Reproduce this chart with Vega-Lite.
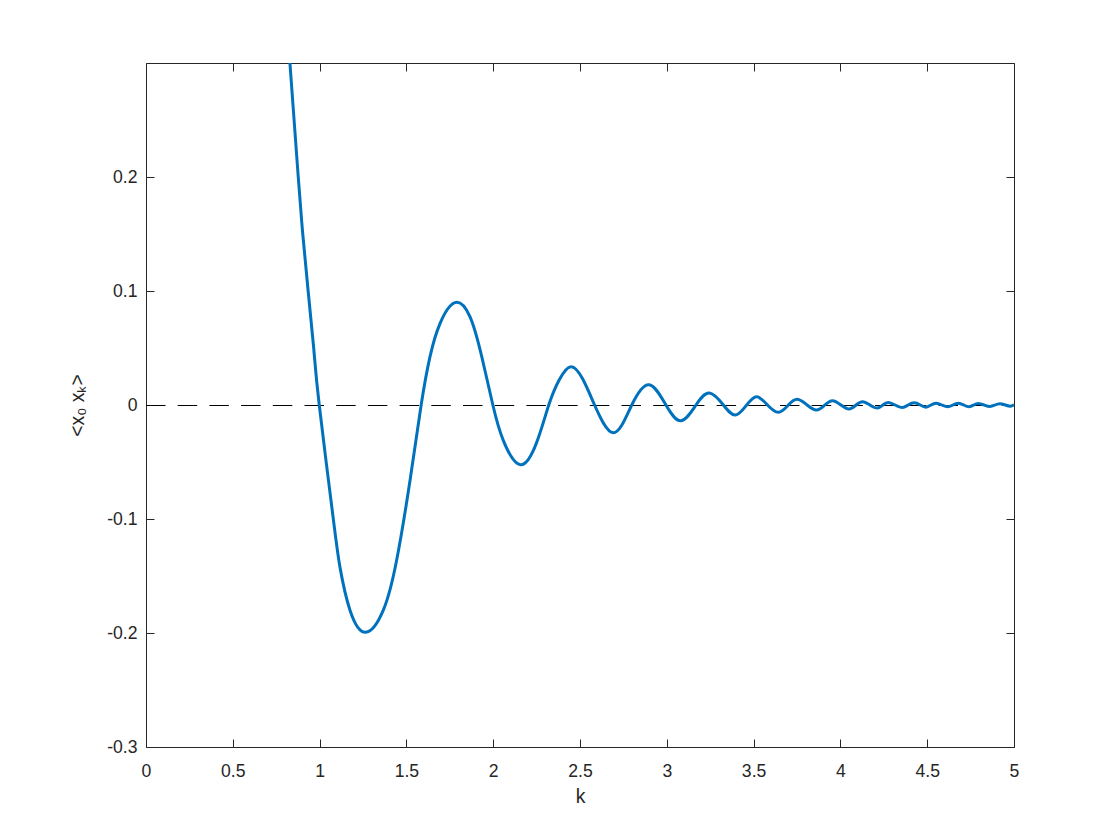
{
  "$schema": "https://vega.github.io/schema/vega-lite/v6.json",
  "width": 868,
  "height": 684,
  "autosize": {"type": "none"},
  "padding": {"left": 146, "top": 63, "right": 106, "bottom": 93},
  "background": "white",
  "datasets": {
    "curve": [
      {"k": 0.829, "v": 0.3}, {"k": 0.877, "v": 0.2}, {"k": 0.903, "v": 0.15}, {"k": 0.934, "v": 0.1},
      {"k": 0.966, "v": 0.05}, {"k": 0.998, "v": 0}, {"k": 1.079, "v": -0.1}, {"k": 1.117, "v": -0.142},
      {"k": 1.175, "v": -0.18}, {"k": 1.265, "v": -0.1994}, {"k": 1.367, "v": -0.18}, {"k": 1.444, "v": -0.136},
      {"k": 1.521, "v": -0.066}, {"k": 1.585, "v": 0}, {"k": 1.636, "v": 0.0424}, {"k": 1.694, "v": 0.0716},
      {"k": 1.78, "v": 0.0898}, {"k": 1.866, "v": 0.0775}, {"k": 1.934, "v": 0.0424}, {"k": 1.998, "v": 0},
      {"k": 2.058, "v": -0.031}, {"k": 2.156, "v": -0.0524}, {"k": 2.25, "v": -0.033}, {"k": 2.32, "v": 0},
      {"k": 2.38, "v": 0.022}, {"k": 2.448, "v": 0.0336}, {"k": 2.515, "v": 0.023}, {"k": 2.584, "v": 0},
      {"k": 2.692, "v": -0.0243}, {"k": 2.798, "v": 0}, {"k": 2.899, "v": 0.0178}, {"k": 2.995, "v": 0},
      {"k": 3.082, "v": -0.0138}, {"k": 3.168, "v": 0}, {"k": 3.245, "v": 0.0105}, {"k": 3.326, "v": 0},
      {"k": 3.395, "v": -0.0088}, {"k": 3.46, "v": 0}, {"k": 3.518, "v": 0.0073}, {"k": 3.58, "v": 0},
      {"k": 3.643, "v": -0.0064}, {"k": 3.7, "v": 0}, {"k": 3.752, "v": 0.005}, {"k": 3.808, "v": 0},
      {"k": 3.863, "v": -0.0044}, {"k": 3.91, "v": 0}, {"k": 3.955, "v": 0.0038}, {"k": 4.003, "v": 0},
      {"k": 4.05, "v": -0.0035}, {"k": 4.09, "v": 0}, {"k": 4.128, "v": 0.0029}, {"k": 4.17, "v": 0},
      {"k": 4.213, "v": -0.0027}, {"k": 4.245, "v": 0}, {"k": 4.276, "v": 0.0022}, {"k": 4.315, "v": 0},
      {"k": 4.357, "v": -0.0022}, {"k": 4.39, "v": 0}, {"k": 4.426, "v": 0.0019}, {"k": 4.46, "v": 0},
      {"k": 4.493, "v": -0.0019}, {"k": 4.522, "v": 0}, {"k": 4.551, "v": 0.0016}, {"k": 4.585, "v": 0},
      {"k": 4.618, "v": -0.0016}, {"k": 4.648, "v": 0}, {"k": 4.679, "v": 0.0015}, {"k": 4.71, "v": 0},
      {"k": 4.741, "v": -0.0015}, {"k": 4.768, "v": 0}, {"k": 4.794, "v": 0.0013}, {"k": 4.828, "v": 0},
      {"k": 4.862, "v": -0.0013}, {"k": 4.89, "v": 0}, {"k": 4.919, "v": 0.0012}, {"k": 4.95, "v": 0},
      {"k": 4.98, "v": -0.001}, {"k": 5.0, "v": 0.0002}
    ],
    "zeroline": [{"a": 0, "b": 5}]
  },
  "layer": [
    {
      "data": {"name": "zeroline"},
      "mark": {"type": "rule", "color": "#000000", "strokeWidth": 1, "yOffset": 0.5, "strokeDash": [19.5, 12.2]},
      "encoding": {
        "x": {"field": "a", "type": "quantitative",
              "scale": {"domain": [0, 5], "nice": false, "zero": false},
              "axis": {"orient": "top", "labels": false, "title": null, "values": [0, 0.5, 1, 1.5, 2, 2.5, 3, 3.5, 4, 4.5, 5]}},
        "x2": {"field": "b"},
        "y": {"datum": 0, "type": "quantitative",
              "scale": {"domain": [-0.3, 0.3], "nice": false, "zero": false},
              "axis": {"orient": "right", "labels": false, "title": null, "values": [-0.3, -0.2, -0.1, 0, 0.1, 0.2]}}
      }
    },
    {
      "data": {"name": "curve"},
      "mark": {"type": "line", "color": "#0072BD", "strokeWidth": 3, "interpolate": "natural", "clip": true},
      "encoding": {
        "x": {"field": "k", "type": "quantitative",
              "scale": {"domain": [0, 5], "nice": false, "zero": false},
              "axis": {"orient": "bottom", "title": "k", "values": [0, 0.5, 1, 1.5, 2, 2.5, 3, 3.5, 4, 4.5, 5],
                       "labelPadding": 23, "titlePadding": 8, "format": "~g"}},
        "y": {"field": "v", "type": "quantitative",
              "scale": {"domain": [-0.3, 0.3], "nice": false, "zero": false},
              "axis": {"orient": "left", "title": "<x₀ xₖ>", "values": [-0.3, -0.2, -0.1, 0, 0.1, 0.2],
                       "labelPadding": 17, "titlePadding": 19,
                       "labelExpr": "datum.value == 0 ? '0' : (datum.value < 0 ? '-' : '') + format(abs(datum.value), '.1f')"}}
      }
    }
  ],
  "resolve": {"axis": {"x": "independent", "y": "independent"}},
  "config": {
    "view": {"stroke": null},
    "axis": {
      "grid": false,
      "domainColor": "#262626",
      "domainWidth": 1,
      "tickColor": "#262626",
      "tickWidth": 1,
      "tickSize": -8,
      "labelFont": "Liberation Sans",
      "labelFontSize": 17.6,
      "labelColor": "#262626",
      "titleFont": "Liberation Sans",
      "titleFontSize": 19.4,
      "titleFontWeight": "normal",
      "titleColor": "#262626",
      "labelFlush": false,
      "labelOverlap": false
    }
  }
}
